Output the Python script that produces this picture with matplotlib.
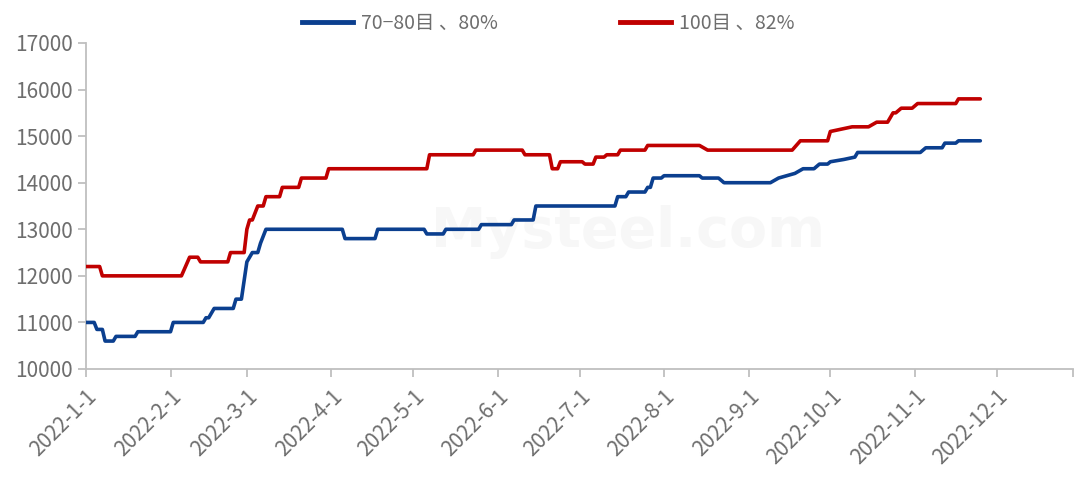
import matplotlib
matplotlib.use('Agg')
import matplotlib.pyplot as plt
import pandas as pd
from matplotlib.lines import Line2D

plt.rcParams['font.family'] = ['Noto Sans CJK SC', 'DejaVu Sans']

# 70-80目、80%  (step breakpoints)
blue_dates = ['2022-01-01', '2022-01-04', '2022-01-05', '2022-01-07', '2022-01-08', '2022-01-11',
              '2022-01-12', '2022-01-19', '2022-01-20', '2022-02-01', '2022-02-02', '2022-02-13',
              '2022-02-14', '2022-02-15', '2022-02-17', '2022-02-24', '2022-02-25', '2022-02-27',
              '2022-03-01', '2022-03-03', '2022-03-05', '2022-03-06', '2022-03-08', '2022-04-05',
              '2022-04-06', '2022-04-17', '2022-04-18', '2022-05-05', '2022-05-06', '2022-05-12',
              '2022-05-13', '2022-05-25', '2022-05-26', '2022-06-06', '2022-06-07', '2022-06-14',
              '2022-06-15', '2022-07-14', '2022-07-15', '2022-07-18', '2022-07-19', '2022-07-25',
              '2022-07-26', '2022-07-27', '2022-07-28', '2022-07-31', '2022-08-01', '2022-08-14',
              '2022-08-15', '2022-08-21', '2022-08-23', '2022-09-09', '2022-09-12', '2022-09-18',
              '2022-09-21', '2022-09-25', '2022-09-27', '2022-09-30', '2022-10-01', '2022-10-06',
              '2022-10-10', '2022-10-11', '2022-11-03', '2022-11-05', '2022-11-11', '2022-11-12',
              '2022-11-16', '2022-11-17', '2022-11-25']
blue_vals = [11000, 11000, 10850, 10850, 10600, 10600,
             10700, 10700, 10800, 10800, 11000, 11000,
             11100, 11100, 11300, 11300, 11500, 11500,
             12300, 12500, 12500, 12700, 13000, 13000,
             12800, 12800, 13000, 13000, 12900, 12900,
             13000, 13000, 13100, 13100, 13200, 13200,
             13500, 13500, 13700, 13700, 13800, 13800,
             13900, 13900, 14100, 14100, 14150, 14150,
             14100, 14100, 14000, 14000, 14100, 14200,
             14300, 14300, 14400, 14400, 14450, 14500,
             14550, 14650, 14650, 14750, 14750, 14850,
             14850, 14900, 14900]

# 100目、82%
red_dates = ['2022-01-01', '2022-01-06', '2022-01-07', '2022-02-05', '2022-02-08', '2022-02-11',
             '2022-02-12', '2022-02-22', '2022-02-23', '2022-02-28', '2022-03-01', '2022-03-02',
             '2022-03-03', '2022-03-05', '2022-03-07', '2022-03-08', '2022-03-13', '2022-03-14',
             '2022-03-20', '2022-03-21', '2022-03-30', '2022-03-31', '2022-05-06', '2022-05-07',
             '2022-05-23', '2022-05-24', '2022-06-10', '2022-06-11', '2022-06-20', '2022-06-21',
             '2022-06-23', '2022-06-24', '2022-07-02', '2022-07-03', '2022-07-06', '2022-07-07',
             '2022-07-10', '2022-07-11', '2022-07-15', '2022-07-16', '2022-07-25', '2022-07-26',
             '2022-08-14', '2022-08-17', '2022-09-17', '2022-09-20', '2022-09-30', '2022-10-01',
             '2022-10-09', '2022-10-15', '2022-10-18', '2022-10-22', '2022-10-24', '2022-10-25',
             '2022-10-27', '2022-10-31', '2022-11-02', '2022-11-16', '2022-11-17', '2022-11-25']
red_vals = [12200, 12200, 12000, 12000, 12400, 12400,
            12300, 12300, 12500, 12500, 13000, 13200,
            13200, 13500, 13500, 13700, 13700, 13900,
            13900, 14100, 14100, 14300, 14300, 14600,
            14600, 14700, 14700, 14600, 14600, 14300,
            14300, 14450, 14450, 14400, 14400, 14550,
            14550, 14600, 14600, 14700, 14700, 14800,
            14800, 14700, 14700, 14900, 14900, 15100,
            15200, 15200, 15300, 15300, 15500, 15500,
            15600, 15600, 15700, 15700, 15800, 15800]

month_ticks = ['2022-%d-1' % m for m in range(1, 13)]
labels = ['70−80目 、80%', '100目 、82%']
colors = ['#0B3F8F', '#C00000']

fig = plt.figure(figsize=(10.75, 4.87), dpi=100)
ax = fig.add_axes([86 / 1075, (487 - 369) / 487, (1073 - 86) / 1075, (369 - 43) / 487])

# faint watermark
ax.text(0.55, 0.42, 'Mysteel.com', transform=ax.transAxes, fontsize=40, fontweight='bold',
        color='#f7f7f7', ha='center', va='center', family='DejaVu Sans', zorder=0)

ax.plot(pd.to_datetime(blue_dates), blue_vals, color=colors[0], lw=2.6, solid_capstyle='round', zorder=3)
ax.plot(pd.to_datetime(red_dates), red_vals, color=colors[1], lw=2.6, solid_capstyle='round', zorder=3)

ax.set_ylim(10000, 17000)
ax.set_yticks(range(10000, 17001, 1000))
ax.set_xlim(pd.Timestamp('2022-01-01'), pd.Timestamp('2022-12-29'))
tick_pos = list(pd.to_datetime(month_ticks)) + [pd.Timestamp('2022-12-29')]
ax.set_xticks(tick_pos)
ax.set_xticklabels(month_ticks + [''], rotation=45, ha='right', rotation_mode='anchor')

for s in ['top', 'right']:
    ax.spines[s].set_visible(False)
for s in ['left', 'bottom']:
    ax.spines[s].set_color('#BFBFBF')
    ax.spines[s].set_linewidth(1.3)
ax.tick_params(axis='both', colors='#BFBFBF', width=1.3, length=6, labelcolor='#6E6E6E', labelsize=15)
ax.tick_params(axis='x', pad=6)

handles = [Line2D([0], [0], color=c, lw=3.5) for c in colors]
fig.legend(handles, labels, loc='upper center', bbox_to_anchor=(0.51, 1.01), ncol=2, frameon=False,
           fontsize=14, labelcolor='#6E6E6E', handlelength=2.6, columnspacing=6.3, handletextpad=0.4)

fig.savefig('out.png', dpi=100)
